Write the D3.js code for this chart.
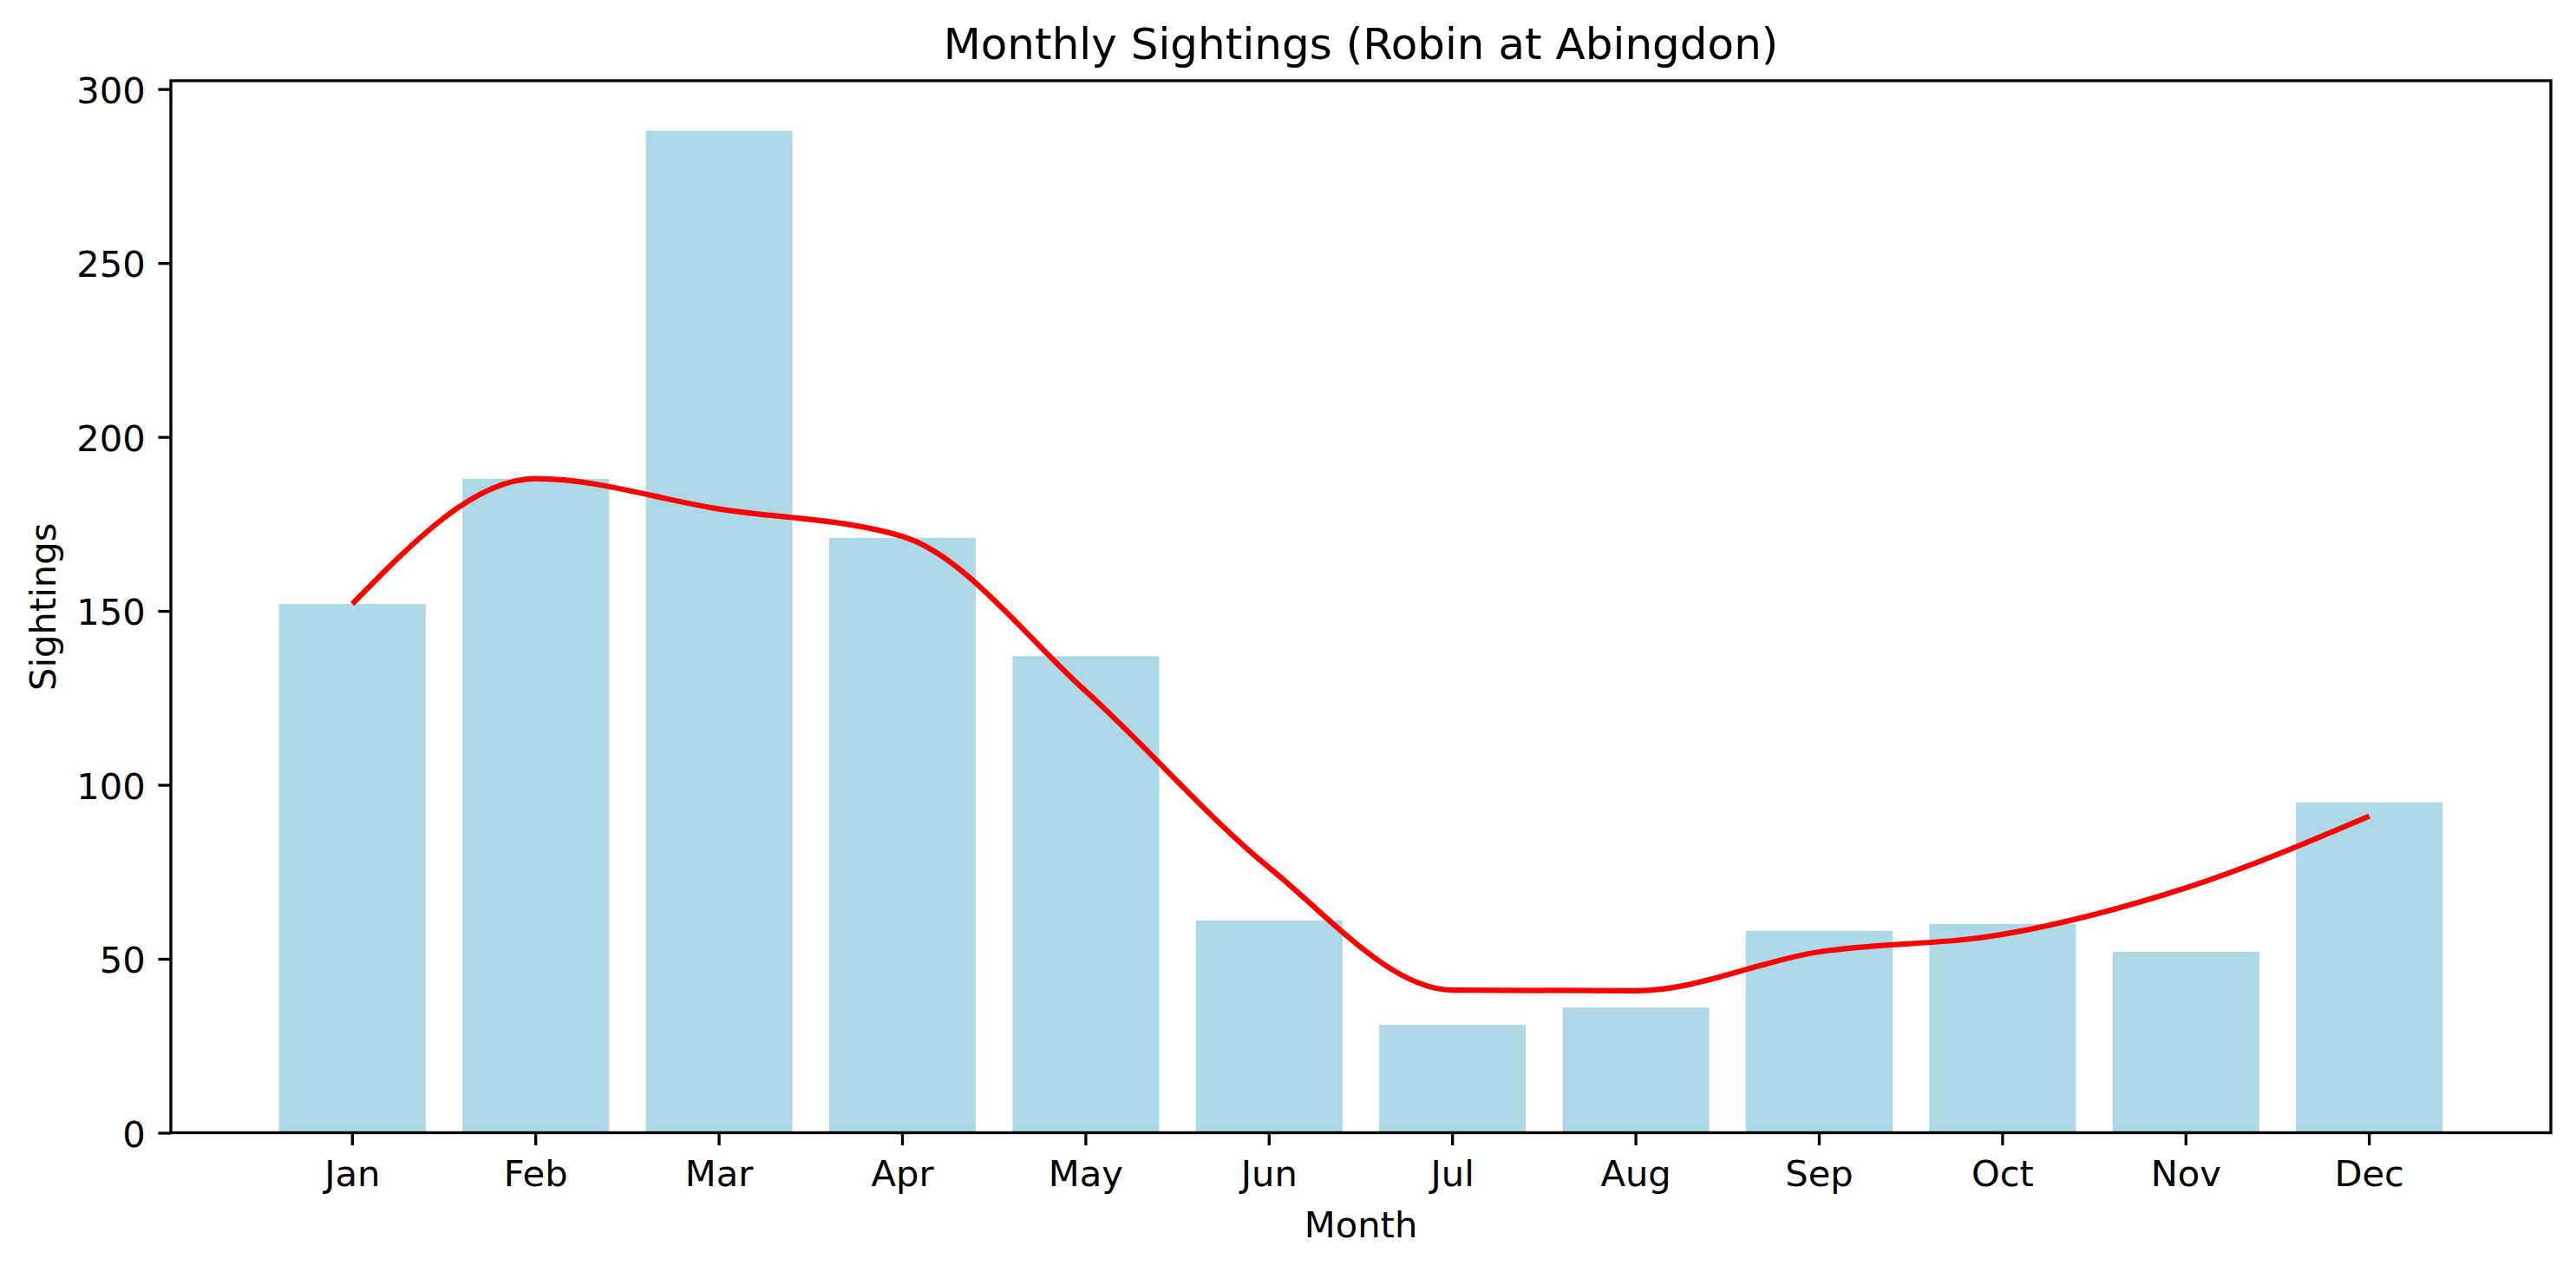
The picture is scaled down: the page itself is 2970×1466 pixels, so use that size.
<!DOCTYPE html>
<html>
<head>
<meta charset="utf-8">
<script src="https://cdn.jsdelivr.net/npm/d3@7"></script>
<style>
  html, body { margin: 0; padding: 0; background: #fff; }
  svg { display: block; }
  text { font-family: "DejaVu Sans", sans-serif; fill: #000; }
</style>
</head>
<body>
<svg id="chart" width="2970" height="1466"></svg>
<script>
const months = ["Jan","Feb","Mar","Apr","May","Jun","Jul","Aug","Sep","Oct","Nov","Dec"];
const sightings = [152, 188, 288, 171, 137, 61, 31, 36, 58, 60, 52, 95];
const trend = [152, 188, 179.3, 171.4, 126.9, 76.2, 41, 40.8, 52, 57, 70.4, 91];
const yTicks = [0, 50, 100, 150, 200, 250, 300];

(function () {
const W = 2970, H = 1466;
const pLeft = 197, pRight = 2941, pTop = 93, pBottom = 1305.5;
const fs = 41.67, lw = 3.33, tickLen = 14.6, pad = 14.6;

const svg = d3.select("#chart");
svg.append("rect").attr("width", W).attr("height", H).attr("fill", "#fff");

const x = d3.scaleBand().domain(months).range([pLeft, pRight])
  .paddingInner(0.2).paddingOuter(0.59).align(0.5);
const y = d3.scaleLinear().domain([0, 288 * 1.05]).range([pBottom, pTop]);

// bars
svg.append("g").selectAll("rect").data(months).join("rect")
  .attr("x", d => x(d))
  .attr("width", x.bandwidth())
  .attr("y", (d, i) => y(sightings[i]))
  .attr("height", (d, i) => y(0) - y(sightings[i]))
  .attr("fill", "#add8e6");

// trend line
const cx = d => x(d) + x.bandwidth() / 2;
const line = d3.line()
  .x((d, i) => cx(months[i]))
  .y(d => y(d))
  .curve(d3.curveMonotoneX);
svg.append("path").datum(trend)
  .attr("d", line)
  .attr("fill", "none")
  .attr("stroke", "#ff0000")
  .attr("stroke-width", 6.25)
  .attr("stroke-linejoin", "round");

// axes
const xAxis = d3.axisBottom(x).tickSize(tickLen).tickPadding(pad).tickSizeOuter(0);
const gx = svg.append("g").attr("transform", `translate(0,${pBottom})`).call(xAxis);
gx.select(".domain").remove();
gx.selectAll(".tick line").attr("stroke", "#000").attr("stroke-width", lw);
gx.selectAll(".tick text").attr("font-size", fs).attr("font-family", "DejaVu Sans")
  .attr("y", tickLen + pad + 0.78 * fs).attr("dy", null);

const yAxis = d3.axisLeft(y).tickValues(yTicks).tickSize(tickLen).tickPadding(pad).tickSizeOuter(0);
const gy = svg.append("g").attr("transform", `translate(${pLeft},0)`).call(yAxis);
gy.select(".domain").remove();
gy.selectAll(".tick line").attr("stroke", "#000").attr("stroke-width", lw);
gy.selectAll(".tick text").attr("font-size", fs).attr("font-family", "DejaVu Sans")
  .attr("dy", null).attr("y", 15.5);

// spines
svg.append("rect")
  .attr("x", pLeft).attr("y", pTop)
  .attr("width", pRight - pLeft).attr("height", pBottom - pTop)
  .attr("fill", "none").attr("stroke", "#000").attr("stroke-width", lw);

// title & labels
svg.append("text").attr("x", (pLeft + pRight) / 2).attr("y", 68)
  .attr("text-anchor", "middle").attr("font-size", 50)
  .text("Monthly Sightings (Robin at Abingdon)");
svg.append("text").attr("x", (pLeft + pRight) / 2).attr("y", 1426)
  .attr("text-anchor", "middle").attr("font-size", fs).text("Month");
svg.append("text")
  .attr("transform", `translate(64,${(pTop + pBottom) / 2}) rotate(-90)`)
  .attr("text-anchor", "middle").attr("font-size", fs).text("Sightings");
})();
</script>
</body>
</html>
